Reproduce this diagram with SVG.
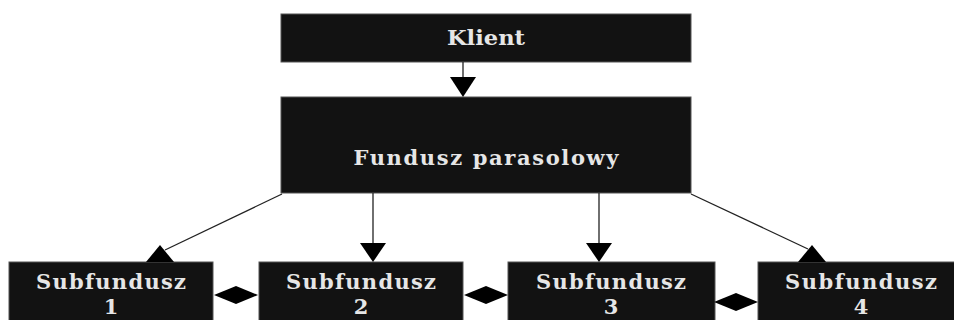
<svg xmlns="http://www.w3.org/2000/svg" width="954" height="320" viewBox="0 0 954 320">
<style>
.box{fill:#121212;stroke:#555;stroke-width:1}
.t{font-family:"DejaVu Serif","Liberation Serif",serif;font-weight:bold;font-size:21px;fill:#e6e6e6;text-anchor:middle}
.ln{stroke:#222;stroke-width:1.3;fill:none}
.hd{fill:#000}
</style>
<rect width="954" height="320" fill="#fff"/>
<g id="klient">
<rect class="box" x="281" y="14" width="410" height="48"/>
<text class="t" x="486" y="45" textLength="78" lengthAdjust="spacingAndGlyphs">Klient</text>
</g>
<g id="fundusz">
<rect class="box" x="281" y="97" width="410" height="96"/>
<text class="t" x="486" y="165" textLength="265" lengthAdjust="spacing">Fundusz parasolowy</text>
</g>
<g id="sub1">
<rect class="box" x="9" y="262" width="204" height="70"/>
<text class="t" x="111" y="289" textLength="150" lengthAdjust="spacing">Subfundusz</text>
<text class="t" x="111" y="314">1</text>
</g>
<g id="sub2">
<rect class="box" x="259" y="262" width="204" height="70"/>
<text class="t" x="361" y="289" textLength="150" lengthAdjust="spacing">Subfundusz</text>
<text class="t" x="361" y="314">2</text>
</g>
<g id="sub3">
<rect class="box" x="508" y="262" width="207" height="70"/>
<text class="t" x="611" y="289" textLength="150" lengthAdjust="spacing">Subfundusz</text>
<text class="t" x="611" y="314">3</text>
</g>
<g id="sub4">
<rect class="box" x="758" y="262" width="206" height="70"/>
<text class="t" x="861" y="289" textLength="152" lengthAdjust="spacing">Subfundusz</text>
<text class="t" x="861" y="314">4</text>
</g>
<g id="connectors">
<line class="ln" x1="463" y1="62" x2="463" y2="80"/>
<polygon class="hd" points="450,77 476,77 463,97"/>
<line class="ln" x1="282" y1="194" x2="165" y2="250"/>
<polygon class="hd" points="160,245 174,262 146,262"/>
<line class="ln" x1="373" y1="193" x2="373" y2="245"/>
<polygon class="hd" points="360,243 386,243 373,262"/>
<line class="ln" x1="599" y1="193" x2="599" y2="245"/>
<polygon class="hd" points="586,243 612,243 599,262"/>
<line class="ln" x1="691" y1="194" x2="808" y2="249"/>
<polygon class="hd" points="812,245 826,262 798,262"/>
<polygon class="hd" points="214,295 236,286 258,295 236,304"/>
<polygon class="hd" points="464,295 486,286 508,295 486,304"/>
<polygon class="hd" points="714,302 736,293 758,302 736,311"/>
</g>
</svg>
